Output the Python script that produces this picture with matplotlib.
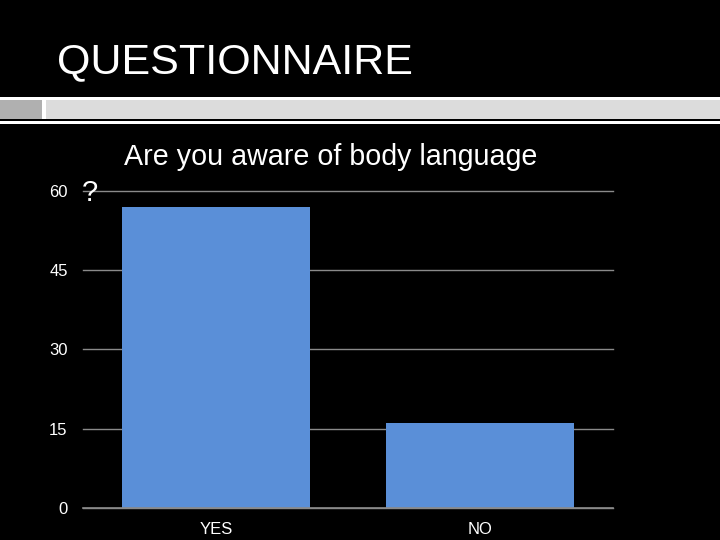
import matplotlib
matplotlib.use('Agg')
import matplotlib.pyplot as plt
from matplotlib.patches import Rectangle

# survey answers
answers = ['YES', 'NO']
counts = [57, 16]
yticks = [0, 15, 30, 45, 60]

W, H = 720, 540
fig = plt.figure(figsize=(7.2, 5.4), dpi=100, facecolor='black')

# slide header band
def px_rect(x0, y0, x1, y1, color):
    fig.patches.append(Rectangle((x0 / W, 1 - y1 / H), (x1 - x0) / W, (y1 - y0) / H,
                                 transform=fig.transFigure, facecolor=color,
                                 edgecolor='none', zorder=0))

px_rect(0, 97, 720, 99.5, 'white')
px_rect(0, 99.5, 720, 119, '#dcdcdc')
px_rect(0, 99.5, 42, 119, '#b0b0b0')
px_rect(42, 99.5, 46, 119, 'white')
px_rect(0, 121.3, 720, 124, 'white')

fig.text(57 / W, 1 - 73 / H, 'QUESTIONNAIRE', color='white', fontsize=31,
         family='Liberation Sans', va='baseline', ha='left')

ax = fig.add_axes([83 / W, 1 - 508 / H, (613 - 83) / W, (508 - 190.7) / H])
ax.set_facecolor('black')
ax.bar(range(len(answers)), counts, width=0.714, color='#5a8fd8', zorder=2)
ax.set_xlim(-0.505, 1.505)
ax.set_ylim(0, 60)
ax.set_yticks(yticks)
ax.set_xticks(range(len(answers)))
ax.set_xticklabels(answers)
ax.grid(axis='y', color='#8a8a8a', linewidth=1, zorder=1)
for gl in ax.get_ygridlines():
    gl.set_clip_on(False)
ax.axhline(0, color='#8a8a8a', linewidth=1.2, zorder=3, clip_on=False)
ax.tick_params(axis='both', length=0, colors='white', labelsize=12)
ax.tick_params(axis='y', pad=11)
ax.tick_params(axis='x', pad=10)
for lab in ax.get_xticklabels() + ax.get_yticklabels():
    lab.set_family('Liberation Sans')
for s in ax.spines.values():
    s.set_visible(False)

fig.text(124 / W, 1 - 165 / H, 'Are you aware of body language', color='white',
         fontsize=20.6, family='Liberation Sans', va='baseline', ha='left')
fig.text(82 / W, 1 - 201 / H, '?', color='white',
         fontsize=21, family='Liberation Sans', va='baseline', ha='left')

fig.savefig('out.png', dpi=100, facecolor='black')
